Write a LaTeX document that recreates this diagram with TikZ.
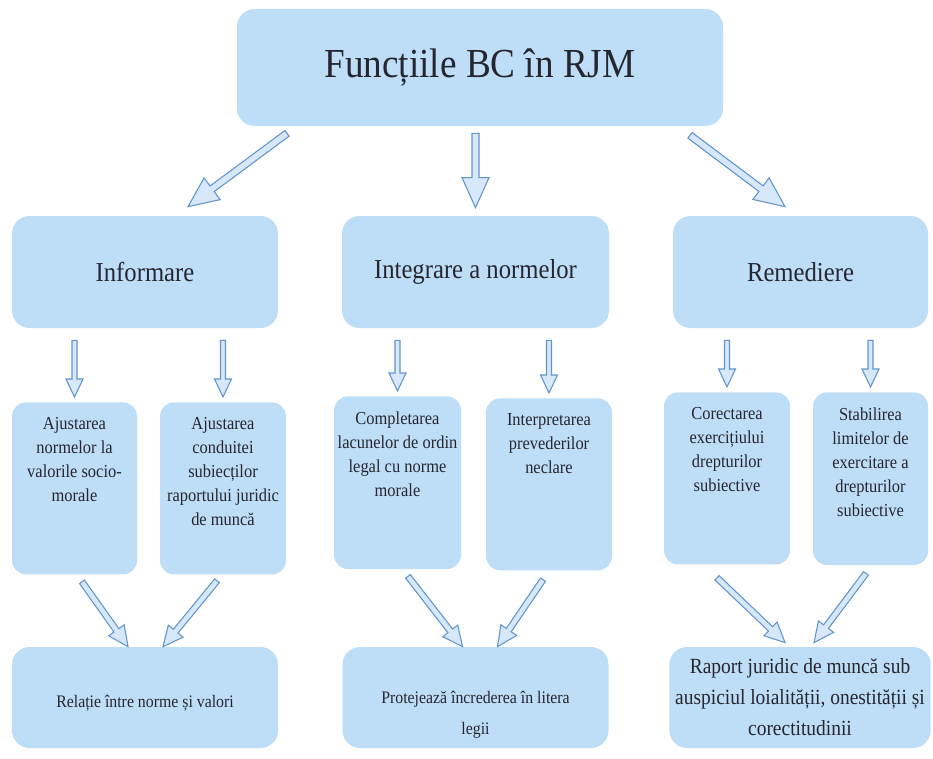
\documentclass[tikz,border=0pt]{standalone}
\usepackage{fontspec}
\setmainfont[FakeStretch=0.9]{Liberation Serif}
\usetikzlibrary{calc}
\usetikzlibrary{positioning}

\definecolor{boxblue}{RGB}{190,221,246}
\definecolor{arrowblue}{RGB}{98,148,204}
\definecolor{arrowfill}{RGB}{214,232,249}
\definecolor{inkgray}{RGB}{38,38,48}

\tikzset{
	funcbox/.style={fill=boxblue, rounded corners=8pt, align=flush center, text=inkgray},
	titlebox/.style={funcbox, rounded corners=10pt, minimum width=9.72cm, minimum height=2.34cm, font=\fontsize{23.5}{27}\selectfont},
	headbox/.style={funcbox, rounded corners=10pt, minimum height=2.24cm, font=\fontsize{15.6}{19}\selectfont},
	itembox/.style={funcbox, anchor=north, inner xsep=0.02cm, inner ysep=0.3cm, text depth=2.6cm, font=\fontsize{10.4}{13.7}\selectfont},
	resultbox/.style={funcbox, rounded corners=10pt, minimum height=2.02cm, font=\fontsize{10}{17.6}\selectfont},
	blockarrow/.style n args={3}{draw=arrowblue, fill=arrowfill, line width=0.6pt,
		to path={($(\tikztostart)!#1!90:(\tikztotarget)$)
			-- ($(\tikztotarget)!#3!(\tikztostart)!#1!-90:(\tikztostart)$)
			-- ($(\tikztotarget)!#3!(\tikztostart)!#2!-90:(\tikztostart)$)
			-- (\tikztotarget)
			-- ($(\tikztotarget)!#3!(\tikztostart)!#2!90:(\tikztostart)$)
			-- ($(\tikztotarget)!#3!(\tikztostart)!#1!90:(\tikztostart)$)
			-- ($(\tikztostart)!#1!-90:(\tikztotarget)$) -- cycle}},
	bigarrow/.style={blockarrow={0.07cm}{0.27cm}{0.6cm}},
	smallarrow/.style={blockarrow={0.05cm}{0.17cm}{0.36cm}},
	slantarrow/.style={blockarrow={0.06cm}{0.19cm}{0.4cm}},
}

\begin{document}
\begin{tikzpicture}
	\useasboundingbox (0,0) rectangle (18.66,-15.16);
	\node[titlebox] (0) at (9.6,-1.35) {Funcțiile BC în RJM};
	\node[headbox, minimum width=5.32cm] (1) at (2.9,-5.44) {Informare};
	\node[headbox, minimum width=5.34cm] (2) at (9.51,-5.44) {Integrare a normelor};
	\node[headbox, minimum width=5.1cm] (3) at (16.01,-5.44) {Remediere};
	\node[itembox, text width=2.46cm] (4) at (1.49,-8.04) {Ajustarea\\normelor la\\valorile socio-\\morale};
	\node[itembox, text width=2.48cm] (5) at (4.46,-8.04) {Ajustarea\\conduitei\\subiecților\\raportului juridic\\de muncă};
	\node[itembox, text width=2.5cm] (6) at (7.95,-7.92) {Completarea\\lacunelor de ordin\\legal cu norme\\morale};
	\node[itembox, text width=2.48cm] (7) at (10.98,-7.96) {Interpretarea\\prevederilor\\neclare};
	\node[itembox, text width=2.48cm] (8) at (14.54,-7.84) {Corectarea\\exercițiului\\drepturilor\\subiective};
	\node[itembox, text width=2.26cm] (9) at (17.41,-7.84) {Stabilirea\\limitelor de\\exercitare a\\drepturilor\\subiective};
	\node[resultbox, minimum width=5.32cm] (10) at (2.9,-13.95) {\rule{0pt}{14pt}Relație între norme și valori};
	\node[resultbox, minimum width=5.32cm] (11) at (9.51,-13.95) {\rule{0pt}{27pt}Protejează încrederea în litera\\legii};
	\node[resultbox, minimum width=5.12cm, font=\fontsize{12.3}{17.6}\selectfont] (12) at (16.0,-13.95) {Raport juridic de muncă sub\\auspiciul loialității, onestității și\\corectitudinii};
	\draw[bigarrow] ([xshift=-3.86cm,yshift=-0.14cm]0.south) to ([xshift=0.86cm,yshift=0.18cm]1.north);
	\draw[bigarrow] ($(0.south -| 2.north)+(0,-0.14)$) to ([yshift=0.16cm]2.north);
	\draw[bigarrow] ([xshift=4.2cm,yshift=-0.18cm]0.south) to ([xshift=-0.31cm,yshift=0.18cm]3.north);
	\draw[smallarrow] ($(1.south -| 4.north)+(0,-0.24)$) to ([yshift=0.1cm]4.north);
	\draw[smallarrow] ($(1.south -| 5.north)+(0,-0.24)$) to ([yshift=0.1cm]5.north);
	\draw[smallarrow] ($(2.south -| 6.north)+(0,-0.24)$) to ([yshift=0.1cm]6.north);
	\draw[smallarrow] ($(2.south -| 7.north)+(0,-0.24)$) to ([yshift=0.1cm]7.north);
	\draw[smallarrow] ($(3.south -| 8.north)+(0,-0.24)$) to ([yshift=0.1cm]8.north);
	\draw[smallarrow] ($(3.south -| 9.north)+(0,-0.24)$) to ([yshift=0.1cm]9.north);
	\draw[slantarrow] ([xshift=0.15cm,yshift=-0.14cm]4.south) to ([xshift=-0.34cm]10.north);
	\draw[slantarrow] ([xshift=-0.12cm,yshift=-0.12cm]5.south) to ([xshift=0.36cm]10.north);
	\draw[slantarrow] ([xshift=0.21cm,yshift=-0.14cm]6.south) to ([xshift=-0.26cm]11.north);
	\draw[slantarrow] ([xshift=-0.12cm,yshift=-0.18cm]7.south) to ([xshift=0.44cm]11.north);
	\draw[slantarrow] ([xshift=-0.2cm,yshift=-0.26cm]8.south) to ([xshift=-0.3cm,yshift=0.08cm]12.north);
	\draw[slantarrow] ([xshift=-0.09cm,yshift=-0.16cm]9.south) to ([xshift=0.28cm,yshift=0.08cm]12.north);
	\end{tikzpicture}
\end{document}
